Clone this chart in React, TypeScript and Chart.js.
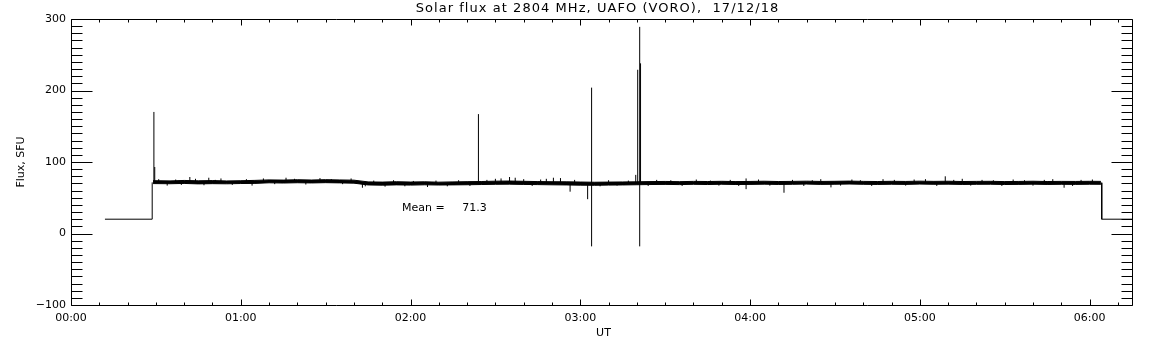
import { useEffect, useRef } from "react";
import { Chart, registerables } from "chart.js";

Chart.register(...registerables);

// ---- Text ----
const TITLE = "Solar flux at 2804 MHz, UAFO (VORO),  17/12/18";
const X_TITLE = "UT";
const Y_TITLE = "Flux, SFU";
const MEAN_LABEL = "Mean =     71.3";
const MEAN_LABEL_AT = [117, 35]; // [minutes UT, SFU]

// ---- Axes ----
const X_MIN = 0;
const X_MAX = 375; // minutes since 00:00 UT
const Y_MIN = -100;
const Y_MAX = 300;
const xTickMinutes = [0, 60, 120, 180, 240, 300, 360];
const xTickLabels = ["00:00", "01:00", "02:00", "03:00", "04:00", "05:00", "06:00"];
const yTickValues = [-100, 0, 100, 200, 300];
const yTickLabels = ["\u2212100", "0", "100", "200", "300"];

// ---- Data (time in minutes UT, flux in SFU) ----
// Level before the receiver comes on-sun and after it goes off
const preTime = [12, 28.7, 28.7];
const preFlux = [20, 20, 71.5];
const postTime = [364.3, 364.3, 375];
const postFlux = [71, 20, 20];

// Noise band of the record: upper and lower envelope
const bandTime = [29, 35, 40, 45, 50, 55, 60, 65, 70, 75, 80, 85, 90, 95, 100, 105, 110, 115, 120, 125, 130, 135, 140, 145, 150, 155, 160, 165, 170, 175, 180, 185, 190, 195, 200, 205, 210, 215, 220, 225, 230, 235, 240, 245, 250, 255, 260, 265, 270, 275, 280, 285, 290, 295, 300, 305, 310, 315, 320, 325, 330, 335, 340, 345, 350, 355, 360, 364];
const bandHigh = [73.9, 73.6, 74.2, 73.7, 74.0, 73.5, 73.8, 74.3, 75.0, 74.7, 75.2, 74.8, 75.3, 74.9, 74.6, 72.2, 71.9, 72.4, 72.0, 72.3, 71.8, 72.2, 72.5, 72.7, 73.2, 73.4, 73.0, 72.6, 72.4, 72.3, 72.0, 71.7, 71.9, 72.1, 72.3, 72.6, 72.8, 72.5, 72.9, 72.7, 73.0, 72.6, 72.8, 73.1, 72.7, 72.9, 73.2, 72.8, 73.0, 73.3, 72.9, 72.7, 73.0, 72.8, 73.2, 72.9, 73.1, 72.7, 72.9, 73.0, 72.6, 72.8, 73.1, 72.7, 72.9, 72.8, 73.0, 72.9];
const bandLow = [69.8, 69.6, 70.0, 69.4, 69.7, 69.5, 69.9, 70.1, 70.9, 70.6, 71.0, 70.7, 71.1, 70.8, 70.4, 67.9, 67.6, 68.0, 67.7, 68.1, 67.8, 68.0, 68.2, 68.5, 68.8, 69.0, 68.6, 68.4, 68.1, 67.9, 67.6, 67.4, 67.7, 67.9, 68.2, 68.5, 68.7, 68.4, 68.8, 68.5, 68.9, 68.5, 68.7, 69.0, 68.6, 68.8, 69.1, 68.7, 68.9, 69.2, 68.8, 68.6, 68.9, 68.7, 69.1, 68.8, 69.0, 68.6, 68.8, 68.9, 68.5, 68.7, 69.0, 68.6, 68.8, 68.7, 68.9, 68.8];

// Small noise excursions sticking out of the band
const hairTime = [31, 34, 37, 39, 44, 47, 51, 53, 57, 62, 64, 68, 72, 76, 79, 83, 88, 92, 96, 99, 104, 107, 111, 114, 118, 121, 126, 129, 133, 137, 141, 147, 150, 152, 160, 163, 166, 168, 178, 187, 190, 193, 197, 204, 207, 212, 216, 221, 226, 229, 233, 236, 243, 247, 255, 259, 262, 265, 272, 276, 279, 283, 287, 291, 295, 298, 302, 306, 312, 315, 318, 322, 326, 329, 333, 337, 340, 344, 347, 354, 357, 361];
const hairLow = [72, 67, 72, 68, 72, 67.5, 72, 72, 68, 72, 67, 73, 69, 73, 73, 68.5, 73, 73, 69, 73, 66, 70, 65.5, 70, 66, 70, 65, 70, 66, 70, 66.5, 70.5, 70.5, 70.5, 70.5, 66.5, 70.5, 70.5, 70.5, 66, 70.5, 67, 70.5, 66.5, 70.8, 70.8, 66.5, 70.8, 70.8, 67, 70.8, 66.5, 70.8, 67, 70.8, 66.5, 70.8, 70.8, 67, 70.8, 70.8, 66.5, 70.8, 70.8, 67, 70.8, 70.8, 66.5, 70.8, 70.8, 67, 70.8, 70.8, 66.5, 70.8, 70.8, 67, 70.8, 70.8, 66.5, 70.8, 70.8];
const hairHigh = [76, 72, 75.5, 72, 76.5, 72, 75, 77, 72, 76, 72, 77, 73, 78, 76.5, 73, 77.5, 76, 73, 77, 70, 74, 70, 74.5, 70, 73.5, 70, 74, 70, 74.5, 70.5, 75, 76.5, 77, 76, 70.5, 75.5, 76.5, 75, 70.5, 74.5, 70.5, 74, 70.8, 75, 74.5, 70.8, 75.5, 74, 70.8, 75, 70.8, 75.5, 70.8, 75, 70.8, 74.5, 76, 70.8, 75.5, 74.5, 70.8, 76, 75, 70.8, 75.5, 76, 70.8, 75, 76.5, 70.8, 75, 74.5, 70.8, 75.5, 74.5, 70.8, 75, 76, 70.8, 75, 75.5];

// Bursts / spikes: time, lowest and highest value of each excursion
const spikeTime = [29.3, 29.6, 42, 48.7, 103, 144, 155, 157, 170.5, 173, 176.4, 182.6, 184, 199.6, 200.3, 201.0, 201.3, 238.6, 252, 268.6, 309, 351];
const spikeLow = [71, 71, 72, 72, 64, 70, 70, 70, 70, 70, 58.5, 48, -18, 70, 70, -18, 70, 62, 57, 64.5, 70, 64];
const spikeHigh = [170, 93, 79, 78, 70, 167, 79, 78, 78, 77.5, 70, 70, 204, 82, 229, 289, 238, 77, 70, 70, 80, 70];

const FONT = '"DejaVu Sans", "Liberation Sans", sans-serif';

function zip(xs: number[], ys: number[]) {
  return xs.map((x, i) => ({ x, y: ys[i] }));
}

function verticals(ts: number[], lows: number[], highs: number[]) {
  const pts: any[] = [];
  ts.forEach((t, i) => {
    pts.push({ x: t, y: lows[i] });
    pts.push({ x: t, y: highs[i] });
    pts.push({ x: t, y: null });
  });
  return pts;
}

const frame = {
  id: "idlFrame",
  beforeDraw(chart: any) {
    const { ctx, width, height } = chart;
    ctx.save();
    ctx.fillStyle = "#ffffff";
    ctx.fillRect(0, 0, width, height);
    ctx.restore();
  },
  afterDraw(chart: any) {
    const { ctx, chartArea, scales } = chart;
    const { left, top, right, bottom } = chartArea;
    const x = scales.x;
    const y = scales.y;
    const px = (v: number) => Math.round(v) + 0.5;
    ctx.save();
    ctx.strokeStyle = "#000";
    ctx.lineWidth = 1;
    ctx.beginPath();
    const L = px(left), R = px(right), T = px(top), B = px(bottom);
    ctx.moveTo(L, T); ctx.lineTo(R, T); ctx.lineTo(R, B); ctx.lineTo(L, B); ctx.closePath();
    for (let v = Y_MIN; v <= Y_MAX; v += 10) {
      const yy = px(y.getPixelForValue(v));
      const len = v % 100 === 0 ? 21 : 11;
      ctx.moveTo(L, yy); ctx.lineTo(L + len, yy);
      ctx.moveTo(R, yy); ctx.lineTo(R - len, yy);
    }
    for (let m = X_MIN; m <= X_MAX; m += 10) {
      const xx = px(x.getPixelForValue(m));
      const len = m % 60 === 0 ? 6 : 3;
      ctx.moveTo(xx, B); ctx.lineTo(xx, B - len);
      ctx.moveTo(xx, T); ctx.lineTo(xx, T + len);
    }
    ctx.stroke();

    ctx.fillStyle = "#000";
    ctx.textAlign = "center";
    ctx.textBaseline = "middle";
    ctx.font = "13px " + FONT;
    (ctx as any).letterSpacing = "1.05px";
    ctx.fillText(TITLE, (left + right) / 2 - 4, 9);
    (ctx as any).letterSpacing = "0px";

    ctx.font = "11px " + FONT;
    ctx.fillText(X_TITLE, (left + right) / 2 + 2, 333);

    ctx.textAlign = "left";
    ctx.fillText(MEAN_LABEL, x.getPixelForValue(MEAN_LABEL_AT[0]), y.getPixelForValue(MEAN_LABEL_AT[1]));

    ctx.translate(21, (top + bottom) / 2);
    ctx.rotate(-Math.PI / 2);
    ctx.textAlign = "center";
    ctx.fillText(Y_TITLE, 0, 0);
    ctx.restore();
  },
};

export default function App() {
  const ref = useRef<HTMLCanvasElement | null>(null);
  useEffect(() => {
    if (!ref.current) return;
    const line = {
      borderColor: "#000",
      borderWidth: 1,
      pointRadius: 0,
      tension: 0,
      fill: false,
    };
    const chart = new Chart(ref.current, {
      type: "line",
      data: {
        datasets: [
          { ...line, label: "pre", data: zip(preTime, preFlux) },
          { ...line, label: "post", data: zip(postTime, postFlux) },
          { ...line, label: "spikes", data: verticals(spikeTime, spikeLow, spikeHigh), spanGaps: false },
          { ...line, label: "hairs", data: verticals(hairTime, hairLow, hairHigh), spanGaps: false },
          { ...line, label: "high", data: zip(bandTime, bandHigh) },
          { ...line, label: "low", data: zip(bandTime, bandLow), fill: "-1", backgroundColor: "#000" },
        ],
      },
      options: {
        responsive: false,
        animation: false,
        events: [],
        layout: { padding: { top: 19, right: 20, left: 0, bottom: 0 } },
        plugins: { legend: { display: false }, tooltip: { enabled: false }, title: { display: false } },
        scales: {
          x: {
            type: "linear",
            min: X_MIN,
            max: X_MAX,
            grid: { display: false, drawTicks: false },
            border: { display: false },
            afterBuildTicks: (s: any) => { s.ticks = xTickMinutes.map((v) => ({ value: v })); },
            afterFit: (s: any) => { s.height = 40; },
            ticks: {
              autoSkip: false,
              maxRotation: 0,
              padding: 7,
              color: "#000",
              font: { family: FONT, size: 11 },
              callback: (v: any) => xTickLabels[xTickMinutes.indexOf(Number(v))] ?? "",
            },
          },
          y: {
            type: "linear",
            min: Y_MIN,
            max: Y_MAX,
            grid: { display: false, drawTicks: false },
            border: { display: false },
            afterBuildTicks: (s: any) => { s.ticks = yTickValues.map((v) => ({ value: v })); },
            afterFit: (s: any) => { s.width = 71; },
            ticks: {
              padding: 5,
              color: "#000",
              font: { family: FONT, size: 11 },
              callback: (v: any) => yTickLabels[yTickValues.indexOf(Number(v))] ?? "",
            },
          },
        },
      },
      plugins: [frame],
    } as any);
    return () => chart.destroy();
  }, []);
  return (
    <div style={{ position: "fixed", left: 0, top: 0, width: 1152, height: 345, background: "#fff" }}>
      <canvas ref={ref} width={1152} height={345} style={{ display: "block" }} />
    </div>
  );
}
